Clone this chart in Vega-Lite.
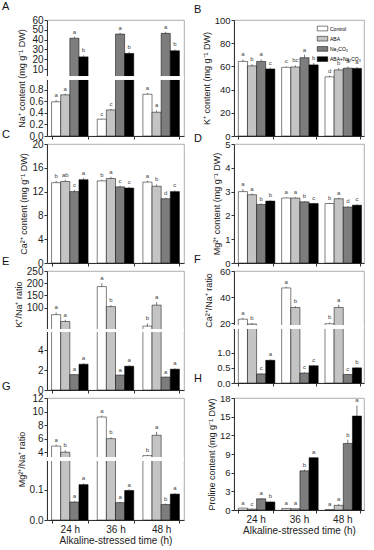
{
"$schema": "https://vega.github.io/schema/vega-lite/v6.json",
"padding": {"left": 1, "top": 0, "right": 2, "bottom": 0},
"config": {
 "font": "Liberation Sans",
 "view": {"stroke": "#9a9a9a", "strokeWidth": 0.8},
 "axis": {"domainColor": "#333", "tickColor": "#333", "labelColor": "#222", "titleColor": "#222", "titleFontWeight": "normal", "grid": false, "tickSize": 3, "labelPadding": 1, "titlePadding": 3, "titleFontSize": 9, "labelOverlap": false},
 "axisY": {"tickCount": 30},
 "title": {"fontSize": 11, "fontWeight": "normal", "anchor": "start", "offset": 0, "baseline": "alphabetic", "color": "#111", "frame": "group"},
 "text": {"font": "Liberation Sans"}
},
"datasets": {"d": [
 {"p":"A","t":"24 h","g":"Control","v":0.59,"hi":0.62,"l":"a"},
 {"p":"A","t":"24 h","g":"ABA","v":0.71,"hi":0.73,"l":"a"},
 {"p":"A","t":"24 h","g":"Na₂CO₃","v":41.5,"hi":43,"l":"a"},
 {"p":"A","t":"24 h","g":"ABA+Na₂CO₃","v":22.5,"hi":24,"l":"b"},
 {"p":"A","t":"36 h","g":"Control","v":0.29,"hi":0.3,"l":"c"},
 {"p":"A","t":"36 h","g":"ABA","v":0.45,"hi":0.47,"l":"c"},
 {"p":"A","t":"36 h","g":"Na₂CO₃","v":45.7,"hi":47,"l":"a"},
 {"p":"A","t":"36 h","g":"ABA+Na₂CO₃","v":26,"hi":27.5,"l":"b"},
 {"p":"A","t":"48 h","g":"Control","v":0.72,"hi":0.74,"l":"a"},
 {"p":"A","t":"48 h","g":"ABA","v":0.41,"hi":0.44,"l":"a"},
 {"p":"A","t":"48 h","g":"Na₂CO₃","v":46.4,"hi":48,"l":"a"},
 {"p":"A","t":"48 h","g":"ABA+Na₂CO₃","v":28.7,"hi":30,"l":"b"},
 {"p":"B","t":"24 h","g":"Control","v":64.3,"hi":66,"l":"a"},
 {"p":"B","t":"24 h","g":"ABA","v":60.5,"hi":62,"l":"b"},
 {"p":"B","t":"24 h","g":"Na₂CO₃","v":64.3,"hi":66,"l":"a"},
 {"p":"B","t":"24 h","g":"ABA+Na₂CO₃","v":57.8,"hi":59,"l":"c"},
 {"p":"B","t":"36 h","g":"Control","v":59.2,"hi":60,"l":"c"},
 {"p":"B","t":"36 h","g":"ABA","v":59.5,"hi":61,"l":"bc"},
 {"p":"B","t":"36 h","g":"Na₂CO₃","v":67.5,"hi":70,"l":"a"},
 {"p":"B","t":"36 h","g":"ABA+Na₂CO₃","v":61.3,"hi":63,"l":"b"},
 {"p":"B","t":"48 h","g":"Control","v":51,"hi":52,"l":"d"},
 {"p":"B","t":"48 h","g":"ABA","v":57,"hi":58.5,"l":"b"},
 {"p":"B","t":"48 h","g":"Na₂CO₃","v":58.5,"hi":60,"l":"a"},
 {"p":"B","t":"48 h","g":"ABA+Na₂CO₃","v":58.3,"hi":59.5,"l":"a"},
 {"p":"C","t":"24 h","g":"Control","v":13.5,"hi":13.8,"l":"b"},
 {"p":"C","t":"24 h","g":"ABA","v":13.7,"hi":14,"l":"ab"},
 {"p":"C","t":"24 h","g":"Na₂CO₃","v":12.0,"hi":12.3,"l":"c"},
 {"p":"C","t":"24 h","g":"ABA+Na₂CO₃","v":14.0,"hi":14.3,"l":"a"},
 {"p":"C","t":"36 h","g":"Control","v":13.8,"hi":14,"l":"b"},
 {"p":"C","t":"36 h","g":"ABA","v":14.2,"hi":14.5,"l":"a"},
 {"p":"C","t":"36 h","g":"Na₂CO₃","v":12.8,"hi":13,"l":"c"},
 {"p":"C","t":"36 h","g":"ABA+Na₂CO₃","v":12.6,"hi":12.8,"l":"c"},
 {"p":"C","t":"48 h","g":"Control","v":13.6,"hi":13.8,"l":"a"},
 {"p":"C","t":"48 h","g":"ABA","v":12.9,"hi":13.2,"l":"b"},
 {"p":"C","t":"48 h","g":"Na₂CO₃","v":10.8,"hi":11,"l":"d"},
 {"p":"C","t":"48 h","g":"ABA+Na₂CO₃","v":12.0,"hi":12.2,"l":"c"},
 {"p":"D","t":"24 h","g":"Control","v":3.0,"hi":3.1,"l":"a"},
 {"p":"D","t":"24 h","g":"ABA","v":2.87,"hi":2.92,"l":"a"},
 {"p":"D","t":"24 h","g":"Na₂CO₃","v":2.46,"hi":2.5,"l":"b"},
 {"p":"D","t":"24 h","g":"ABA+Na₂CO₃","v":2.6,"hi":2.64,"l":"b"},
 {"p":"D","t":"36 h","g":"Control","v":2.73,"hi":2.76,"l":"a"},
 {"p":"D","t":"36 h","g":"ABA","v":2.73,"hi":2.76,"l":"a"},
 {"p":"D","t":"36 h","g":"Na₂CO₃","v":2.57,"hi":2.6,"l":"b"},
 {"p":"D","t":"36 h","g":"ABA+Na₂CO₃","v":2.5,"hi":2.53,"l":"c"},
 {"p":"D","t":"48 h","g":"Control","v":2.5,"hi":2.53,"l":"b"},
 {"p":"D","t":"48 h","g":"ABA","v":2.7,"hi":2.74,"l":"a"},
 {"p":"D","t":"48 h","g":"Na₂CO₃","v":2.35,"hi":2.38,"l":"d"},
 {"p":"D","t":"48 h","g":"ABA+Na₂CO₃","v":2.43,"hi":2.46,"l":"c"},
 {"p":"E","t":"24 h","g":"Control","v":71,"hi":80,"l":"a"},
 {"p":"E","t":"24 h","g":"ABA","v":43,"hi":50,"l":"a"},
 {"p":"E","t":"24 h","g":"Na₂CO₃","v":1.55,"hi":1.6,"l":"a"},
 {"p":"E","t":"24 h","g":"ABA+Na₂CO₃","v":2.6,"hi":2.7,"l":"a"},
 {"p":"E","t":"36 h","g":"Control","v":186,"hi":200,"l":"a"},
 {"p":"E","t":"36 h","g":"ABA","v":104,"hi":110,"l":"b"},
 {"p":"E","t":"36 h","g":"Na₂CO₃","v":1.5,"hi":1.55,"l":"a"},
 {"p":"E","t":"36 h","g":"ABA+Na₂CO₃","v":2.4,"hi":2.5,"l":"a"},
 {"p":"E","t":"48 h","g":"Control","v":24,"hi":35,"l":"b"},
 {"p":"E","t":"48 h","g":"ABA","v":110,"hi":122,"l":"a"},
 {"p":"E","t":"48 h","g":"Na₂CO₃","v":1.3,"hi":1.35,"l":"a"},
 {"p":"E","t":"48 h","g":"ABA+Na₂CO₃","v":2.1,"hi":2.2,"l":"a"},
 {"p":"F","t":"24 h","g":"Control","v":23,"hi":24,"l":"a"},
 {"p":"F","t":"24 h","g":"ABA","v":19.3,"hi":20,"l":"b"},
 {"p":"F","t":"24 h","g":"Na₂CO₃","v":0.3,"hi":0.32,"l":"c"},
 {"p":"F","t":"24 h","g":"ABA+Na₂CO₃","v":0.75,"hi":0.78,"l":"a"},
 {"p":"F","t":"36 h","g":"Control","v":47,"hi":48,"l":"a"},
 {"p":"F","t":"36 h","g":"ABA","v":32,"hi":33,"l":"b"},
 {"p":"F","t":"36 h","g":"Na₂CO₃","v":0.33,"hi":0.35,"l":"c"},
 {"p":"F","t":"36 h","g":"ABA+Na₂CO₃","v":0.57,"hi":0.6,"l":"c"},
 {"p":"F","t":"48 h","g":"Control","v":19.5,"hi":20.5,"l":"b"},
 {"p":"F","t":"48 h","g":"ABA","v":32,"hi":34,"l":"a"},
 {"p":"F","t":"48 h","g":"Na₂CO₃","v":0.28,"hi":0.3,"l":"c"},
 {"p":"F","t":"48 h","g":"ABA+Na₂CO₃","v":0.5,"hi":0.52,"l":"b"},
 {"p":"G","t":"24 h","g":"Control","v":4.9,"hi":5.1,"l":"a"},
 {"p":"G","t":"24 h","g":"ABA","v":4.0,"hi":4.3,"l":"b"},
 {"p":"G","t":"24 h","g":"Na₂CO₃","v":0.059,"hi":0.062,"l":"a"},
 {"p":"G","t":"24 h","g":"ABA+Na₂CO₃","v":0.116,"hi":0.12,"l":"a"},
 {"p":"G","t":"36 h","g":"Control","v":9.2,"hi":9.4,"l":"a"},
 {"p":"G","t":"36 h","g":"ABA","v":6.0,"hi":6.2,"l":"b"},
 {"p":"G","t":"36 h","g":"Na₂CO₃","v":0.057,"hi":0.06,"l":"a"},
 {"p":"G","t":"36 h","g":"ABA+Na₂CO₃","v":0.097,"hi":0.1,"l":"a"},
 {"p":"G","t":"48 h","g":"Control","v":3.5,"hi":3.6,"l":"b"},
 {"p":"G","t":"48 h","g":"ABA","v":6.5,"hi":7.0,"l":"a"},
 {"p":"G","t":"48 h","g":"Na₂CO₃","v":0.051,"hi":0.054,"l":"b"},
 {"p":"G","t":"48 h","g":"ABA+Na₂CO₃","v":0.085,"hi":0.088,"l":"a"},
 {"p":"H","t":"24 h","g":"Control","v":0.3,"hi":0.35,"l":"a"},
 {"p":"H","t":"24 h","g":"ABA","v":0.15,"hi":0.2,"l":"c"},
 {"p":"H","t":"24 h","g":"Na₂CO₃","v":1.8,"hi":1.9,"l":"a"},
 {"p":"H","t":"24 h","g":"ABA+Na₂CO₃","v":1.3,"hi":1.4,"l":"b"},
 {"p":"H","t":"36 h","g":"Control","v":0.25,"hi":0.3,"l":"a"},
 {"p":"H","t":"36 h","g":"ABA","v":0.2,"hi":0.25,"l":"a"},
 {"p":"H","t":"36 h","g":"Na₂CO₃","v":6.3,"hi":6.5,"l":"b"},
 {"p":"H","t":"36 h","g":"ABA+Na₂CO₃","v":8.4,"hi":8.5,"l":"a"},
 {"p":"H","t":"48 h","g":"Control","v":0.05,"hi":0.1,"l":"a"},
 {"p":"H","t":"48 h","g":"ABA","v":0.75,"hi":0.95,"l":"a"},
 {"p":"H","t":"48 h","g":"Na₂CO₃","v":10.7,"hi":11.3,"l":"b"},
 {"p":"H","t":"48 h","g":"ABA+Na₂CO₃","v":15.1,"hi":16.8,"l":"a"}
]},
"columns": 2,
"spacing": {"row": 8, "column": 50},
"bounds": "flush",
"center": true,
"resolve": {"scale": {"fill": "independent"}, "legend": {"fill": "independent"}},
"concat": [
  {"width": 137, "height": 116, "title": {"text": "A", "dx": -45, "dy": 1},
   "data": {"name": "d"}, "transform": [{"filter": "datum.p == 'A'"}],
   "layer": [
    {"mark": {"type": "bar", "stroke": "#000", "strokeWidth": 0.5},
     "encoding": {
      "x": {"field": "t", "type": "nominal", "title": null, "scale": {"paddingInner": 0.2, "paddingOuter": 0.1}, "axis": {"labels": false, "tickBand": "extent"}},
      "xOffset": {"field": "g", "type": "nominal", "sort": ["Control","ABA","Na₂CO₃","ABA+Na₂CO₃"], "scale": {"paddingInner": 0, "paddingOuter": 0}},
      "y": {"field": "v", "type": "quantitative", "title": "Na⁺ content (mg g⁻¹ DW)", "scale": {"domain": [0, 1, 60], "range": [116, 58, 0], "nice": false, "zero": false}, "axis": {"values": [0,0.2,0.4,0.6,0.8,10,20,30,40,50,60], "tickCount": 30, "labelExpr": "datum.value < 1 ? format(datum.value, '.1f') : format(datum.value, 'd')", "labelFontSize": 10, "labelOverlap": false}},
      "fill": {"field": "g", "type": "nominal", "sort": ["Control","ABA","Na₂CO₃","ABA+Na₂CO₃"], "scale": {"domain": ["Control","ABA","Na₂CO₃","ABA+Na₂CO₃"], "range": ["#ffffff","#c4c4c4","#7d7d7d","#000000"]}, "legend": null}}},
    {"mark": {"type": "rule", "color": "#222", "strokeWidth": 0.6},
     "encoding": {
      "x": {"field": "t", "type": "nominal", "title": null},
      "xOffset": {"field": "g", "type": "nominal", "sort": ["Control","ABA","Na₂CO₃","ABA+Na₂CO₃"]},
      "y": {"field": "v", "type": "quantitative", "title": "Na⁺ content (mg g⁻¹ DW)"}, "y2": {"field": "hi"}}},
    {"mark": {"type": "rule", "color": "#ffffff", "strokeWidth": 2.5},
     "encoding": {"y": {"datum": 1, "type": "quantitative"}}},
    {"mark": {"type": "text", "fontSize": 6, "dy": -2, "baseline": "bottom", "color": "#444"},
     "encoding": {
      "x": {"field": "t", "type": "nominal", "title": null},
      "xOffset": {"field": "g", "type": "nominal", "sort": ["Control","ABA","Na₂CO₃","ABA+Na₂CO₃"]},
      "y": {"field": "hi", "type": "quantitative", "title": "Na⁺ content (mg g⁻¹ DW)"}, "text": {"field": "l"}}}
   ]},
  {"width": 130, "height": 116, "title": {"text": "B", "dx": -40, "dy": 4},
   "data": {"name": "d"}, "transform": [{"filter": "datum.p == 'B'"}],
   "layer": [
    {"mark": {"type": "bar", "stroke": "#000", "strokeWidth": 0.5},
     "encoding": {
      "x": {"field": "t", "type": "nominal", "title": null, "scale": {"paddingInner": 0.2, "paddingOuter": 0.1}, "axis": {"labels": false, "tickBand": "extent"}},
      "xOffset": {"field": "g", "type": "nominal", "sort": ["Control","ABA","Na₂CO₃","ABA+Na₂CO₃"], "scale": {"paddingInner": 0, "paddingOuter": 0}},
      "y": {"field": "v", "type": "quantitative", "title": "K⁺ content (mg g⁻¹ DW)", "scale": {"domain": [0, 100], "nice": false}, "axis": {"values": [0,20,40,60,80,100], "tickCount": 30, "format": "d", "labelFontSize": 9.5, "labelOverlap": false}},
      "fill": {"field": "g", "type": "nominal", "sort": ["Control","ABA","Na₂CO₃","ABA+Na₂CO₃"], "scale": {"domain": ["Control","ABA","Na₂CO₃","ABA+Na₂CO₃"], "range": ["#ffffff","#c4c4c4","#7d7d7d","#000000"]},
       "legend": {"orient": "top-right", "offset": 2, "title": null, "symbolType": "M-1,-0.45H1V0.45H-1Z", "symbolSize": 110, "symbolStrokeColor": "#000", "symbolStrokeWidth": 0.5, "labelFontSize": 5, "labelOffset": 2, "rowPadding": 1.2, "padding": 1, "labelLimit": 60}}}},
    {"mark": {"type": "rule", "color": "#222", "strokeWidth": 0.6},
     "encoding": {
      "x": {"field": "t", "type": "nominal", "title": null},
      "xOffset": {"field": "g", "type": "nominal", "sort": ["Control","ABA","Na₂CO₃","ABA+Na₂CO₃"]},
      "y": {"field": "v", "type": "quantitative", "title": "K⁺ content (mg g⁻¹ DW)"}, "y2": {"field": "hi"}}},
    {"mark": {"type": "text", "fontSize": 6, "dy": -2, "baseline": "bottom", "color": "#444"},
     "encoding": {
      "x": {"field": "t", "type": "nominal", "title": null},
      "xOffset": {"field": "g", "type": "nominal", "sort": ["Control","ABA","Na₂CO₃","ABA+Na₂CO₃"]},
      "y": {"field": "hi", "type": "quantitative", "title": "K⁺ content (mg g⁻¹ DW)"}, "text": {"field": "l"}}}
   ]},
  {"width": 137, "height": 119, "title": {"text": "C", "dx": -45, "dy": 5},
   "data": {"name": "d"}, "transform": [{"filter": "datum.p == 'C'"}],
   "layer": [
    {"mark": {"type": "bar", "stroke": "#000", "strokeWidth": 0.5},
     "encoding": {
      "x": {"field": "t", "type": "nominal", "title": null, "scale": {"paddingInner": 0.2, "paddingOuter": 0.1}, "axis": {"labels": false, "tickBand": "extent"}},
      "xOffset": {"field": "g", "type": "nominal", "sort": ["Control","ABA","Na₂CO₃","ABA+Na₂CO₃"], "scale": {"paddingInner": 0, "paddingOuter": 0}},
      "y": {"field": "v", "type": "quantitative", "title": "Ca²⁺ content (mg g⁻¹ DW)", "scale": {"domain": [0, 20], "nice": false}, "axis": {"values": [0,4,8,12,16,20], "tickCount": 30, "format": "d", "labelFontSize": 10, "labelOverlap": false}},
      "fill": {"field": "g", "type": "nominal", "sort": ["Control","ABA","Na₂CO₃","ABA+Na₂CO₃"], "scale": {"domain": ["Control","ABA","Na₂CO₃","ABA+Na₂CO₃"], "range": ["#ffffff","#c4c4c4","#7d7d7d","#000000"]}, "legend": null}}},
    {"mark": {"type": "rule", "color": "#222", "strokeWidth": 0.6},
     "encoding": {
      "x": {"field": "t", "type": "nominal", "title": null},
      "xOffset": {"field": "g", "type": "nominal", "sort": ["Control","ABA","Na₂CO₃","ABA+Na₂CO₃"]},
      "y": {"field": "v", "type": "quantitative", "title": "Ca²⁺ content (mg g⁻¹ DW)"}, "y2": {"field": "hi"}}},
    {"mark": {"type": "text", "fontSize": 6, "dy": -2, "baseline": "bottom", "color": "#444"},
     "encoding": {
      "x": {"field": "t", "type": "nominal", "title": null},
      "xOffset": {"field": "g", "type": "nominal", "sort": ["Control","ABA","Na₂CO₃","ABA+Na₂CO₃"]},
      "y": {"field": "hi", "type": "quantitative", "title": "Ca²⁺ content (mg g⁻¹ DW)"}, "text": {"field": "l"}}}
   ]},
  {"width": 130, "height": 119, "title": {"text": "D", "dx": -40, "dy": 9},
   "data": {"name": "d"}, "transform": [{"filter": "datum.p == 'D'"}],
   "layer": [
    {"mark": {"type": "bar", "stroke": "#000", "strokeWidth": 0.5},
     "encoding": {
      "x": {"field": "t", "type": "nominal", "title": null, "scale": {"paddingInner": 0.2, "paddingOuter": 0.1}, "axis": {"labels": false, "tickBand": "extent"}},
      "xOffset": {"field": "g", "type": "nominal", "sort": ["Control","ABA","Na₂CO₃","ABA+Na₂CO₃"], "scale": {"paddingInner": 0, "paddingOuter": 0}},
      "y": {"field": "v", "type": "quantitative", "title": "Mg²⁺ content (mg g⁻¹ DW)", "scale": {"domain": [0, 5], "nice": false}, "axis": {"values": [0,1,2,3,4,5], "tickCount": 30, "format": "d", "labelFontSize": 9.5, "labelOverlap": false}},
      "fill": {"field": "g", "type": "nominal", "sort": ["Control","ABA","Na₂CO₃","ABA+Na₂CO₃"], "scale": {"domain": ["Control","ABA","Na₂CO₃","ABA+Na₂CO₃"], "range": ["#ffffff","#c4c4c4","#7d7d7d","#000000"]}, "legend": null}}},
    {"mark": {"type": "rule", "color": "#222", "strokeWidth": 0.6},
     "encoding": {
      "x": {"field": "t", "type": "nominal", "title": null},
      "xOffset": {"field": "g", "type": "nominal", "sort": ["Control","ABA","Na₂CO₃","ABA+Na₂CO₃"]},
      "y": {"field": "v", "type": "quantitative", "title": "Mg²⁺ content (mg g⁻¹ DW)"}, "y2": {"field": "hi"}}},
    {"mark": {"type": "text", "fontSize": 6, "dy": -2, "baseline": "bottom", "color": "#444"},
     "encoding": {
      "x": {"field": "t", "type": "nominal", "title": null},
      "xOffset": {"field": "g", "type": "nominal", "sort": ["Control","ABA","Na₂CO₃","ABA+Na₂CO₃"]},
      "y": {"field": "hi", "type": "quantitative", "title": "Mg²⁺ content (mg g⁻¹ DW)"}, "text": {"field": "l"}}}
   ]},
  {"width": 137, "height": 119, "title": {"text": "E", "dx": -45, "dy": 5},
   "data": {"name": "d"}, "transform": [{"filter": "datum.p == 'E'"}],
   "layer": [
    {"mark": {"type": "bar", "stroke": "#000", "strokeWidth": 0.5},
     "encoding": {
      "x": {"field": "t", "type": "nominal", "title": null, "scale": {"paddingInner": 0.2, "paddingOuter": 0.1}, "axis": {"labels": false, "tickBand": "extent"}},
      "xOffset": {"field": "g", "type": "nominal", "sort": ["Control","ABA","Na₂CO₃","ABA+Na₂CO₃"], "scale": {"paddingInner": 0, "paddingOuter": 0}},
      "y": {"field": "v", "type": "quantitative", "title": "K⁺/Na⁺ ratio", "scale": {"domain": [0, 6, 250], "range": [119, 59.5, 0], "nice": false, "zero": false}, "axis": {"values": [0,2,4,100,150,200,250], "tickCount": 30, "format": "d", "labelFontSize": 10, "titleY": 33, "labelOverlap": false}},
      "fill": {"field": "g", "type": "nominal", "sort": ["Control","ABA","Na₂CO₃","ABA+Na₂CO₃"], "scale": {"domain": ["Control","ABA","Na₂CO₃","ABA+Na₂CO₃"], "range": ["#ffffff","#c4c4c4","#7d7d7d","#000000"]}, "legend": null}}},
    {"mark": {"type": "rule", "color": "#222", "strokeWidth": 0.6},
     "encoding": {
      "x": {"field": "t", "type": "nominal", "title": null},
      "xOffset": {"field": "g", "type": "nominal", "sort": ["Control","ABA","Na₂CO₃","ABA+Na₂CO₃"]},
      "y": {"field": "v", "type": "quantitative", "title": "K⁺/Na⁺ ratio"}, "y2": {"field": "hi"}}},
    {"mark": {"type": "rule", "color": "#ffffff", "strokeWidth": 2.5},
     "encoding": {"y": {"datum": 6, "type": "quantitative"}}},
    {"mark": {"type": "text", "fontSize": 6, "dy": -2, "baseline": "bottom", "color": "#444"},
     "encoding": {
      "x": {"field": "t", "type": "nominal", "title": null},
      "xOffset": {"field": "g", "type": "nominal", "sort": ["Control","ABA","Na₂CO₃","ABA+Na₂CO₃"]},
      "y": {"field": "hi", "type": "quantitative", "title": "K⁺/Na⁺ ratio"}, "text": {"field": "l"}}}
   ]},
  {"width": 130, "height": 112, "title": {"text": "F", "dx": -40, "dy": 2.5},
   "data": {"name": "d"}, "transform": [{"filter": "datum.p == 'F'"}],
   "layer": [
    {"mark": {"type": "bar", "stroke": "#000", "strokeWidth": 0.5},
     "encoding": {
      "x": {"field": "t", "type": "nominal", "title": null, "scale": {"paddingInner": 0.2, "paddingOuter": 0.1}, "axis": {"labels": false, "tickBand": "extent"}},
      "xOffset": {"field": "g", "type": "nominal", "sort": ["Control","ABA","Na₂CO₃","ABA+Na₂CO₃"], "scale": {"paddingInner": 0, "paddingOuter": 0}},
      "y": {"field": "v", "type": "quantitative", "title": "Ca²⁺/Na⁺ ratio", "scale": {"domain": [0, 1.85, 17, 60], "range": [112, 56, 56, 0], "nice": false, "zero": false}, "axis": {"values": [0,0.5,1,20,40,60], "tickCount": 30, "labelExpr": "datum.value <= 1 ? format(datum.value, '.1f') : format(datum.value, 'd')", "labelFontSize": 9.5, "titleY": 29, "labelOverlap": false}},
      "fill": {"field": "g", "type": "nominal", "sort": ["Control","ABA","Na₂CO₃","ABA+Na₂CO₃"], "scale": {"domain": ["Control","ABA","Na₂CO₃","ABA+Na₂CO₃"], "range": ["#ffffff","#c4c4c4","#7d7d7d","#000000"]}, "legend": null}}},
    {"mark": {"type": "rule", "color": "#222", "strokeWidth": 0.6},
     "encoding": {
      "x": {"field": "t", "type": "nominal", "title": null},
      "xOffset": {"field": "g", "type": "nominal", "sort": ["Control","ABA","Na₂CO₃","ABA+Na₂CO₃"]},
      "y": {"field": "v", "type": "quantitative", "title": "Ca²⁺/Na⁺ ratio"}, "y2": {"field": "hi"}}},
    {"mark": {"type": "rule", "color": "#ffffff", "strokeWidth": 2.5},
     "encoding": {"y": {"datum": 1.85, "type": "quantitative"}}},
    {"mark": {"type": "text", "fontSize": 6, "dy": -2, "baseline": "bottom", "color": "#444"},
     "encoding": {
      "x": {"field": "t", "type": "nominal", "title": null},
      "xOffset": {"field": "g", "type": "nominal", "sort": ["Control","ABA","Na₂CO₃","ABA+Na₂CO₃"]},
      "y": {"field": "hi", "type": "quantitative", "title": "Ca²⁺/Na⁺ ratio"}, "text": {"field": "l"}}}
   ]},
  {"width": 137, "height": 122, "title": {"text": "G", "dx": -45, "dy": 3},
   "data": {"name": "d"}, "transform": [{"filter": "datum.p == 'G'"}],
   "layer": [
    {"mark": {"type": "bar", "stroke": "#000", "strokeWidth": 0.5},
     "encoding": {
      "x": {"field": "t", "type": "nominal", "title": "Alkaline-stressed time (h)", "scale": {"paddingInner": 0.2, "paddingOuter": 0.1}, "axis": {"labelAngle": 0, "labelFontSize": 10, "titleFontSize": 10, "tickBand": "extent", "labelPadding": 1, "titlePadding": 1}},
      "xOffset": {"field": "g", "type": "nominal", "sort": ["Control","ABA","Na₂CO₃","ABA+Na₂CO₃"], "scale": {"paddingInner": 0, "paddingOuter": 0}},
      "y": {"field": "v", "type": "quantitative", "title": "Mg²⁺/Na⁺ ratio", "scale": {"domain": [0, 0.2, 3, 12], "range": [122, 61, 61, 0], "nice": false, "zero": false}, "axis": {"values": [0,0.1,4,6,8,10,12], "tickCount": 30, "labelExpr": "datum.value <= 1 ? format(datum.value, '.1f') : format(datum.value, 'd')", "labelFontSize": 10, "labelOverlap": false}},
      "fill": {"field": "g", "type": "nominal", "sort": ["Control","ABA","Na₂CO₃","ABA+Na₂CO₃"], "scale": {"domain": ["Control","ABA","Na₂CO₃","ABA+Na₂CO₃"], "range": ["#ffffff","#c4c4c4","#7d7d7d","#000000"]}, "legend": null}}},
    {"mark": {"type": "rule", "color": "#222", "strokeWidth": 0.6},
     "encoding": {
      "x": {"field": "t", "type": "nominal", "title": "Alkaline-stressed time (h)"},
      "xOffset": {"field": "g", "type": "nominal", "sort": ["Control","ABA","Na₂CO₃","ABA+Na₂CO₃"]},
      "y": {"field": "v", "type": "quantitative", "title": "Mg²⁺/Na⁺ ratio"}, "y2": {"field": "hi"}}},
    {"mark": {"type": "rule", "color": "#ffffff", "strokeWidth": 2.5},
     "encoding": {"y": {"datum": 0.2, "type": "quantitative"}}},
    {"mark": {"type": "text", "fontSize": 6, "dy": -2, "baseline": "bottom", "color": "#444"},
     "encoding": {
      "x": {"field": "t", "type": "nominal", "title": "Alkaline-stressed time (h)"},
      "xOffset": {"field": "g", "type": "nominal", "sort": ["Control","ABA","Na₂CO₃","ABA+Na₂CO₃"]},
      "y": {"field": "hi", "type": "quantitative", "title": "Mg²⁺/Na⁺ ratio"}, "text": {"field": "l"}}}
   ]},
  {"width": 130, "height": 112, "title": {"text": "H", "dx": -40, "dy": -5},
   "data": {"name": "d"}, "transform": [{"filter": "datum.p == 'H'"}],
   "layer": [
    {"mark": {"type": "bar", "stroke": "#000", "strokeWidth": 0.5},
     "encoding": {
      "x": {"field": "t", "type": "nominal", "title": "Alkaline-stressed time (h)", "scale": {"paddingInner": 0.2, "paddingOuter": 0.1}, "axis": {"labelAngle": 0, "labelFontSize": 10, "titleFontSize": 10, "tickBand": "extent", "labelPadding": 1, "titlePadding": 1}},
      "xOffset": {"field": "g", "type": "nominal", "sort": ["Control","ABA","Na₂CO₃","ABA+Na₂CO₃"], "scale": {"paddingInner": 0, "paddingOuter": 0}},
      "y": {"field": "v", "type": "quantitative", "title": "Proline content (mg g⁻¹ DW)", "scale": {"domain": [0, 18], "nice": false}, "axis": {"values": [0,3,6,9,12,15,18], "tickCount": 30, "format": "d", "labelFontSize": 9.5, "labelOverlap": false}},
      "fill": {"field": "g", "type": "nominal", "sort": ["Control","ABA","Na₂CO₃","ABA+Na₂CO₃"], "scale": {"domain": ["Control","ABA","Na₂CO₃","ABA+Na₂CO₃"], "range": ["#ffffff","#c4c4c4","#7d7d7d","#000000"]}, "legend": null}}},
    {"mark": {"type": "rule", "color": "#222", "strokeWidth": 0.6},
     "encoding": {
      "x": {"field": "t", "type": "nominal", "title": "Alkaline-stressed time (h)"},
      "xOffset": {"field": "g", "type": "nominal", "sort": ["Control","ABA","Na₂CO₃","ABA+Na₂CO₃"]},
      "y": {"field": "v", "type": "quantitative", "title": "Proline content (mg g⁻¹ DW)"}, "y2": {"field": "hi"}}},
    {"mark": {"type": "text", "fontSize": 6, "dy": -2, "baseline": "bottom", "color": "#444"},
     "encoding": {
      "x": {"field": "t", "type": "nominal", "title": "Alkaline-stressed time (h)"},
      "xOffset": {"field": "g", "type": "nominal", "sort": ["Control","ABA","Na₂CO₃","ABA+Na₂CO₃"]},
      "y": {"field": "hi", "type": "quantitative", "title": "Proline content (mg g⁻¹ DW)"}, "text": {"field": "l"}}}
   ]}
]
}
